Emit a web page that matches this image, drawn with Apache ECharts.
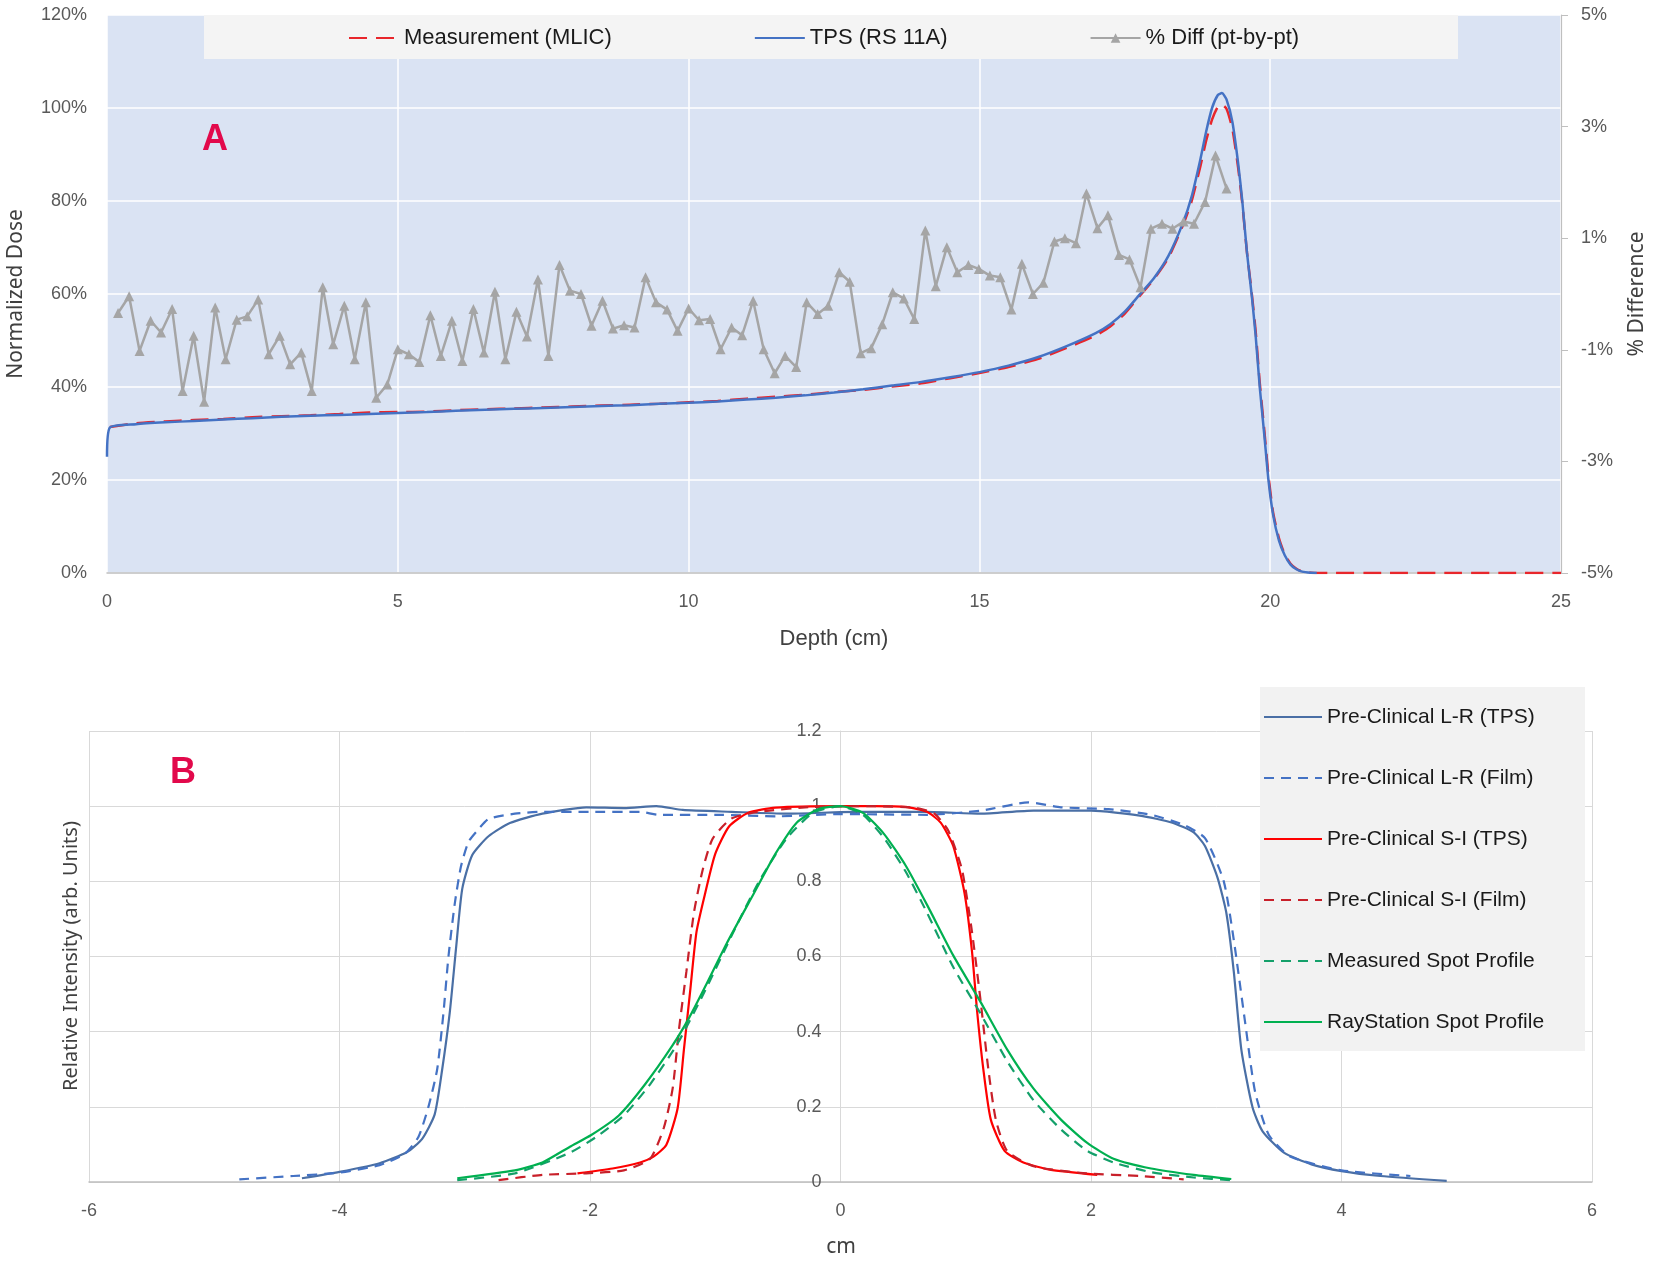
<!DOCTYPE html>
<html>
<head>
<meta charset="utf-8">
<title>Depth dose and lateral profiles</title>
<script src="https://cdn.jsdelivr.net/npm/echarts@6.0.0/dist/echarts.min.js"></script>
<style>
    html, body { margin: 0; padding: 0; background: #ffffff; }
    #main { width: 1654px; height: 1269px; }
</style>
</head>
<body>
<div id="main"></div>
<script>
/* ---------- A : depth dose (percent) ---------- */
var tpsDepth = [0, 0.05, 0.5, 1, 1.5, 2, 2.5, 3, 3.5, 4, 4.5, 5, 5.5, 6, 6.5, 7, 7.5, 8, 8.5, 9,
    9.5, 10, 10.5, 11, 11.5, 12, 12.5, 13, 13.5, 14, 14.5, 15, 15.5, 16, 16.5, 17, 17.25, 17.5, 17.75, 18,
    18.25, 18.5, 18.65, 18.8, 18.9, 19, 19.1, 19.17, 19.25, 19.35, 19.45, 19.52, 19.6, 19.68, 19.75, 19.82, 19.9, 19.97, 20.05, 20.15,
    20.25, 20.35, 20.45, 20.55, 20.7, 20.8];
var tpsDose = [25.0, 31.3, 32.0, 32.4, 32.7, 33.0, 33.3, 33.6, 33.8, 34.0, 34.2, 34.4, 34.6, 34.9, 35.1, 35.3, 35.5, 35.7, 35.9, 36.1,
    36.4, 36.6, 36.9, 37.3, 37.7, 38.2, 38.8, 39.5, 40.3, 41.1, 42.1, 43.2, 44.6, 46.4, 48.8, 51.6, 53.5, 56.2, 59.8, 63.4,
    68.2, 75.3, 81.0, 89.0, 95.0, 100.0, 102.8, 103.2, 101.8, 97.0, 88.0, 80.0, 69.0, 60.0, 51.0, 40.0, 29.5, 20.0, 12.5, 7.0,
    3.8, 1.8, 0.8, 0.3, 0.05, 0];

var mlicDepth = [0.05, 0.5, 1, 1.5, 2, 2.5, 3, 3.5, 4, 4.5, 5, 5.5, 6, 6.5, 7, 7.5, 8, 8.5, 9, 9.5,
    10, 10.5, 11, 11.5, 12, 12.5, 13, 13.5, 14, 14.5, 15, 15.5, 16, 16.5, 17, 17.25, 17.5, 17.75, 18, 18.25,
    18.5, 18.65, 18.8, 18.9, 19, 19.1, 19.17, 19.25, 19.35, 19.45, 19.52, 19.6, 19.68, 19.75, 19.82, 19.9, 19.97, 20.05, 20.15, 20.25,
    20.35, 20.45, 20.55, 20.7, 20.85, 21, 22, 23, 24, 25];
var mlicDose = [31.4, 32.2, 32.6, 32.9, 33.1, 33.5, 33.7, 33.9, 34.2, 34.5, 34.6, 34.7, 35.0, 35.2, 35.4, 35.6, 35.8, 36.0, 36.2, 36.4,
    36.7, 37.0, 37.5, 37.9, 38.3, 38.9, 39.4, 40.1, 40.8, 41.9, 43.0, 44.3, 46.0, 48.4, 51.1, 53.0, 55.8, 59.5, 63.2, 67.8,
    74.8, 80.0, 87.5, 93.0, 97.5, 100.3, 100.7, 99.8, 95.5, 87.0, 79.5, 69.0, 60.5, 52.0, 41.0, 30.5, 21.0, 13.0, 7.5, 4.0,
    2.0, 0.9, 0.3, 0.05, 0, 0, 0, 0, 0, 0];

/* point by point difference (%) on the right axis */
var diffDepth = [0.19, 0.38, 0.56, 0.75, 0.93, 1.12, 1.30, 1.49, 1.67, 1.86, 2.04, 2.23, 2.41, 2.60, 2.78, 2.97, 3.15, 3.34, 3.52, 3.71,
    3.89, 4.08, 4.26, 4.45, 4.63, 4.82, 5.00, 5.19, 5.37, 5.56, 5.74, 5.93, 6.11, 6.30, 6.48, 6.67, 6.85, 7.04, 7.22, 7.41,
    7.59, 7.78, 7.96, 8.15, 8.33, 8.52, 8.70, 8.89, 9.07, 9.26, 9.44, 9.63, 9.81, 10.00, 10.18, 10.37, 10.55, 10.74, 10.92, 11.11,
    11.29, 11.48, 11.66, 11.85, 12.03, 12.22, 12.40, 12.59, 12.77, 12.96, 13.14, 13.33, 13.51, 13.70, 13.88, 14.07, 14.25, 14.44, 14.62, 14.81,
    14.99, 15.18, 15.36, 15.55, 15.73, 15.92, 16.10, 16.29, 16.47, 16.66, 16.84, 17.03, 17.21, 17.40, 17.58, 17.77, 17.95, 18.14, 18.32, 18.51,
    18.69, 18.88, 19.06, 19.25];
var diffValue = [-0.34, -0.04, -1.02, -0.48, -0.69, -0.27, -1.74, -0.75, -1.93, -0.24, -1.17, -0.46, -0.40, -0.10, -1.08, -0.75, -1.26, -1.05, -1.74, 0.12,
    -0.90, -0.21, -1.17, -0.15, -1.86, -1.62, -0.99, -1.08, -1.22, -0.38, -1.11, -0.48, -1.20, -0.27, -1.05, 0.04, -1.17, -0.32, -0.76, 0.26,
    -1.11, 0.52, 0.06, 0.00, -0.57, -0.12, -0.62, -0.56, -0.60, 0.30, -0.15, -0.28, -0.66, -0.26, -0.47, -0.45, -0.99, -0.60, -0.74, -0.12,
    -0.99, -1.42, -1.11, -1.31, -0.15, -0.36, -0.21, 0.39, 0.22, -1.06, -0.97, -0.54, 0.03, -0.08, -0.45, 1.14, 0.14, 0.84, 0.39, 0.52,
    0.45, 0.33, 0.30, -0.28, 0.54, 0.00, 0.20, 0.94, 1.00, 0.91, 1.80, 1.18, 1.41, 0.70, 0.62, 0.12, 1.17, 1.26, 1.17, 1.30,
    1.26, 1.65, 2.48, 1.89];
var diffTicks = [-5, -3, -1, 1, 3, 5];

/* ---------- B : lateral profiles ---------- */
var lrTpsX = [-4.30, -4.00, -3.68, -3.46, -3.34, -3.24, -3.18, -3.12, -3.07, -3.02, -2.94, -2.81, -2.64, -2.38, -2.03, -1.73, -1.47, -1.26, -0.87, -0.43,
    0.00, 0.26, 0.69, 1.12, 1.54, 2.00, 2.39, 2.65, 2.82, 2.91, 3.01, 3.08, 3.14, 3.20, 3.29, 3.37, 3.54, 3.76, 4.00, 4.31, 4.84];
var lrTpsY = [0.010, 0.027, 0.050, 0.080, 0.115, 0.180, 0.300, 0.450, 0.620, 0.780, 0.870, 0.920, 0.955, 0.980, 0.997, 0.995, 1.000, 0.990, 0.985, 0.980,
    0.984, 0.985, 0.985, 0.980, 0.988, 0.988, 0.975, 0.956, 0.930, 0.894, 0.810, 0.717, 0.560, 0.353, 0.198, 0.135, 0.078, 0.047, 0.029, 0.016, 0.003];

var lrFilmX = [-4.80, -4.37, -4.00, -3.68, -3.48, -3.37, -3.29, -3.22, -3.17, -3.13, -3.08, -3.03, -2.97, -2.90, -2.81, -2.60, -2.38, -2.00, -1.60, -1.45,
    -1.00, -0.50, 0.00, 0.69, 1.12, 1.50, 1.76, 2.14, 2.48, 2.74, 2.91, 3.06, 3.14, 3.23, 3.31, 3.42, 3.59, 4.00, 4.55];
var lrFilmY = [0.007, 0.016, 0.025, 0.045, 0.075, 0.120, 0.200, 0.300, 0.450, 0.600, 0.740, 0.840, 0.905, 0.935, 0.966, 0.980, 0.985, 0.985, 0.985, 0.977,
    0.977, 0.973, 0.979, 0.977, 0.988, 1.010, 0.997, 0.992, 0.977, 0.950, 0.915, 0.800, 0.644, 0.426, 0.240, 0.125, 0.068, 0.031, 0.016];

var siTpsX = [-2.10, -1.82, -1.60, -1.49, -1.39, -1.30, -1.25, -1.20, -1.15, -1.08, -1.00, -0.89, -0.74, -0.52, 0.00,
    0.26, 0.52, 0.69, 0.80, 0.90, 0.99, 1.05, 1.09, 1.14, 1.20, 1.31, 1.46, 1.67, 2.05];
var siTpsY = [0.023, 0.036, 0.052, 0.068, 0.099, 0.197, 0.353, 0.509, 0.665, 0.769, 0.873, 0.946, 0.982, 0.996, 1.000,
    1.000, 0.998, 0.985, 0.956, 0.894, 0.769, 0.613, 0.457, 0.301, 0.166, 0.083, 0.052, 0.033, 0.019];

var siFilmX = [-2.73, -2.38, -2.03, -1.73, -1.52, -1.41, -1.34, -1.29, -1.23, -1.17, -1.10, -1.02, -0.87, -0.65, -0.22,
    0.26, 0.61, 0.75, 0.86, 0.97, 1.05, 1.12, 1.18, 1.24, 1.33, 1.54, 1.96, 2.39, 2.74];
var siFilmY = [0.005, 0.019, 0.023, 0.031, 0.062, 0.145, 0.249, 0.405, 0.561, 0.717, 0.831, 0.914, 0.967, 0.985, 0.998,
    1.000, 0.995, 0.980, 0.935, 0.831, 0.665, 0.478, 0.301, 0.166, 0.083, 0.042, 0.023, 0.016, 0.007];

var spotMeasX = [-3.06, -2.60, -2.16, -1.95, -1.73, -1.52, -1.30, -1.08, -0.87, -0.65, -0.43, -0.22, 0.00,
    0.18, 0.35, 0.52, 0.69, 0.90, 1.12, 1.33, 1.54, 1.76, 1.97, 2.18, 2.48, 2.82, 3.12];
var spotMeasY = [0.005, 0.023, 0.078, 0.120, 0.177, 0.260, 0.369, 0.510, 0.655, 0.800, 0.914, 0.982, 1.000,
    0.977, 0.914, 0.826, 0.717, 0.572, 0.447, 0.322, 0.218, 0.140, 0.083, 0.052, 0.026, 0.012, 0.005];

var spotRsX = [-3.06, -2.60, -2.38, -2.16, -1.99, -1.77, -1.56, -1.34, -1.21, -1.08, -0.91, -0.69, -0.52, -0.35, -0.17, 0.00,
    0.18, 0.35, 0.52, 0.69, 0.90, 1.12, 1.33, 1.54, 1.76, 1.97, 2.18, 2.48, 2.82, 3.12];
var spotRsY = [0.010, 0.031, 0.052, 0.094, 0.125, 0.177, 0.260, 0.364, 0.436, 0.520, 0.634, 0.769, 0.873, 0.956, 0.993, 1.000,
    0.982, 0.925, 0.842, 0.738, 0.603, 0.478, 0.353, 0.249, 0.166, 0.104, 0.062, 0.036, 0.019, 0.008];

var namesA = ['Measurement (MLIC)', 'TPS (RS 11A)', '% Diff (pt-by-pt)'];
var namesB = ['Pre-Clinical L-R (TPS)', 'Pre-Clinical L-R (Film)', 'Pre-Clinical S-I (TPS)',
    'Pre-Clinical S-I (Film)', 'Measured Spot Profile', 'RayStation Spot Profile'];

var tickFont = 'Liberation Sans, Arial, sans-serif';
var titleFont = 'Noto Sans, DejaVu Sans, sans-serif';

/* x list + y list -> [[x, y], ...] */
function zip(xs, ys) {
    var out = [];
    for (var i = 0; i < xs.length; i++) {
        out.push([xs[i], ys[i]]);
    }
    return out;
}

/* legend entry without the dot in the middle of the line */
function plainItem(name) {
    return { name: name, itemStyle: { opacity: 0 } };
}

function lineSeries(name, xi, yi, data, color, dash, width) {
    return {
        name: name,
        type: 'line',
        xAxisIndex: xi,
        yAxisIndex: yi,
        data: data,
        symbol: 'none',
        smooth: 0.2,
        lineStyle: { color: color, width: width, type: dash },
        itemStyle: { color: color }
    };
}

var myChart = echarts.init(document.getElementById('main'));

var option = {
    animation: false,
    backgroundColor: '#ffffff',
    grid: [
        { left: 107, top: 15, width: 1454, height: 558, show: true, backgroundColor: '#dae3f3', borderWidth: 0, outerBoundsMode: 'none' },
        { left: 89, top: 731, width: 1503, height: 451, show: false, outerBoundsMode: 'none' }
    ],
    legend: [
        {
            data: [plainItem(namesA[0]), plainItem(namesA[1]), namesA[2]],
            left: 343,
            top: 22,
            itemGap: 142,
            itemWidth: 50,
            itemHeight: 12,
            selectedMode: false,
            textStyle: { fontSize: 22, color: '#1a1a1a', fontFamily: tickFont }
        },
        {
            data: namesB.map(plainItem),
            orient: 'vertical',
            left: 1258,
            top: 700,
            itemGap: 37,
            itemWidth: 58,
            itemHeight: 12,
            selectedMode: false,
            textStyle: { fontSize: 21, lineHeight: 24, color: '#1a1a1a', fontFamily: tickFont }
        }
    ],
    xAxis: [
        {
            type: 'value', gridIndex: 0, min: 0, max: 25, interval: 5,
            axisLine: { show: true, onZero: false, lineStyle: { color: '#bfbfbf', width: 1.5 } },
            axisTick: { show: false },
            splitLine: { show: true, lineStyle: { color: '#ffffff', width: 1.5 } },
            axisLabel: { color: '#595959', fontSize: 18, margin: 20, fontFamily: tickFont, showMinLabel: true, showMaxLabel: true }
        },
        {
            type: 'value', gridIndex: 1, min: -6, max: 6, interval: 2,
            axisLine: { show: true, onZero: false, lineStyle: { color: '#bfbfbf', width: 1.5 } },
            axisTick: { show: false },
            splitLine: { show: true, lineStyle: { color: '#d9d9d9', width: 1 } },
            axisLabel: { color: '#595959', fontSize: 18, margin: 20, fontFamily: tickFont, showMinLabel: true, showMaxLabel: true }
        }
    ],
    yAxis: [
        {
            type: 'value', gridIndex: 0, position: 'left', min: 0, max: 120, interval: 20,
            axisLine: { show: false, onZero: false },
            axisTick: { show: false },
            splitLine: { show: true, lineStyle: { color: '#ffffff', width: 1.5 } },
            axisLabel: { formatter: '{value}%', color: '#595959', fontSize: 18, margin: 20, fontFamily: tickFont, showMinLabel: true, showMaxLabel: true }
        },
        {
            type: 'value', gridIndex: 0, position: 'right', min: -5, max: 5,
            axisLine: { show: true, onZero: false, lineStyle: { color: '#bfbfbf', width: 1.2 } },
            axisTick: { show: true, customValues: diffTicks, length: 7, lineStyle: { color: '#bfbfbf' } },
            splitLine: { show: false },
            axisLabel: {
                customValues: diffTicks,
                formatter: function (v) { return v + '%'; },
                color: '#595959', fontSize: 18, margin: 20, fontFamily: tickFont
            }
        },
        {
            // the B value axis sits on x = 0, moved in from the left edge
            type: 'value', gridIndex: 1, position: 'left', offset: -751.5, min: 0, max: 1.2, interval: 0.2,
            axisLine: { show: true, onZero: false, lineStyle: { color: '#d9d9d9', width: 1 } },
            axisTick: { show: false },
            splitLine: { show: true, lineStyle: { color: '#d9d9d9', width: 1 } },
            axisLabel: { color: '#595959', fontSize: 18, margin: 19, fontFamily: tickFont, showMinLabel: true, showMaxLabel: true }
        }
    ],
    graphic: [
        // legend boxes
        { type: 'rect', z: 3, shape: { x: 204, y: 15, width: 1254, height: 44 }, style: { fill: '#f4f4f4' } },
        { type: 'rect', z: 3, shape: { x: 1260, y: 687, width: 325, height: 364 }, style: { fill: '#f2f2f2' } },
        // panel letters
        { type: 'text', z: 10, x: 215, y: 140, style: { text: 'A', fill: '#e2094b', font: 'bold 36px ' + tickFont, align: 'center', verticalAlign: 'middle' } },
        { type: 'text', z: 10, x: 183, y: 773, style: { text: 'B', fill: '#e2094b', font: 'bold 36px ' + tickFont, align: 'center', verticalAlign: 'middle' } },
        // axis titles
        { type: 'text', z: 10, x: 16, y: 294, rotation: Math.PI / 2, style: { text: 'Normalized Dose', fill: '#404040', font: '21px ' + titleFont, align: 'center', verticalAlign: 'middle' } },
        { type: 'text', z: 10, x: 1637, y: 294, rotation: Math.PI / 2, style: { text: '% Difference', fill: '#404040', font: '21px ' + titleFont, align: 'center', verticalAlign: 'middle' } },
        { type: 'text', z: 10, x: 834, y: 639, style: { text: 'Depth (cm)', fill: '#404040', font: '22px ' + tickFont, align: 'center', verticalAlign: 'middle' } },
        { type: 'text', z: 10, x: 71, y: 956, rotation: Math.PI / 2, style: { text: 'Relative Intensity (arb. Units)', fill: '#404040', font: '20px ' + titleFont, align: 'center', verticalAlign: 'middle' } },
        { type: 'text', z: 10, x: 841, y: 1247, style: { text: 'cm', fill: '#404040', font: '21px ' + titleFont, align: 'center', verticalAlign: 'middle' } }
    ],
    series: [
        lineSeries(namesA[0], 0, 0, zip(mlicDepth, mlicDose), '#e8262b', [18, 9], 2.5),
        lineSeries(namesA[1], 0, 0, zip(tpsDepth, tpsDose), '#4472c4', 'solid', 2.5),
        {
            name: namesA[2],
            type: 'line',
            xAxisIndex: 0,
            yAxisIndex: 1,
            data: zip(diffDepth, diffValue),
            symbol: 'triangle',
            symbolSize: 10,
            lineStyle: { color: '#a5a5a5', width: 2.5 },
            itemStyle: { color: '#a5a5a5' }
        },
        lineSeries(namesB[0], 1, 2, zip(lrTpsX, lrTpsY), '#4a6fa5', 'solid', 2.2),
        lineSeries(namesB[1], 1, 2, zip(lrFilmX, lrFilmY), '#4472c4', [10, 7], 2.2),
        lineSeries(namesB[2], 1, 2, zip(siTpsX, siTpsY), '#ff0000', 'solid', 2.2),
        lineSeries(namesB[3], 1, 2, zip(siFilmX, siFilmY), '#c8202a', [10, 7], 2.2),
        lineSeries(namesB[4], 1, 2, zip(spotMeasX, spotMeasY), '#14a06a', [10, 7], 2.2),
        lineSeries(namesB[5], 1, 2, zip(spotRsX, spotRsY), '#00b050', 'solid', 2.2)
    ]
};

myChart.setOption(option);
window.addEventListener('resize', function () {
    myChart.resize();
});
</script>
</body>
</html>
